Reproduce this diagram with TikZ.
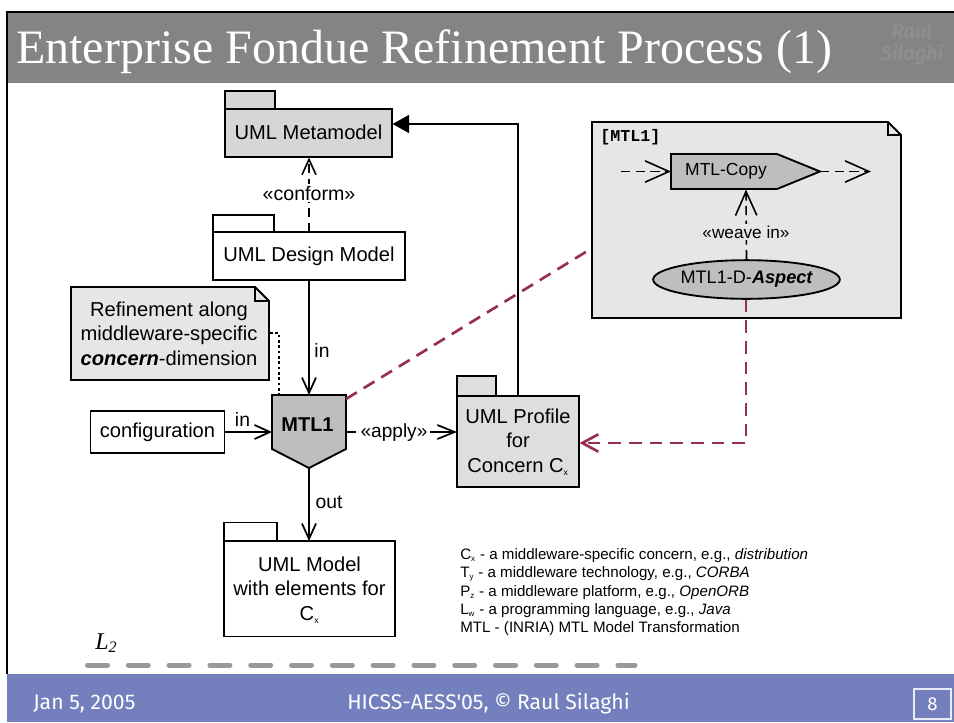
\documentclass[tikz,border=0pt]{standalone}
\usepackage{fontspec}
\setmainfont{Liberation Sans}
\newfontfamily\serifface{Liberation Serif}
\newfontfamily\monoface{Liberation Mono}
\newfontfamily\footface{Fira Sans}
\usetikzlibrary{arrows.meta,shapes.geometric}
\definecolor{band}{HTML}{848484}
\definecolor{footer}{HTML}{7480BD}
\definecolor{wine}{HTML}{97304F}
\definecolor{pkgA}{HTML}{D6D6D6}
\definecolor{pkgB}{HTML}{DEDEDE}
\definecolor{noteC}{HTML}{E6E6E6}
\definecolor{stepC}{HTML}{BEBEBE}
\tikzset{
  x=0.75pt,y=-0.75pt,
  outline/.style={draw=black,line width=1.4pt,line join=miter},
  boxlabel/.style={font=\fontsize{15.1}{18.5}\selectfont,align=center,inner sep=0pt},
  smalllabel/.style={font=\fontsize{14.5}{16}\selectfont,inner sep=0pt},
  legend/.style={font=\fontsize{11.35}{13}\selectfont,anchor=base west,inner sep=0pt},
  solidflow/.style={line width=1.4pt,-{Straight Barb[length=11.5pt,width=10.5pt,line width=1.3pt]}},
  dashflow/.style={line width=1.2pt,dash pattern=on 7pt off 4pt,-{Straight Barb[length=11.5pt,width=10.5pt,line width=1.2pt]}},
  bigdash/.style={line width=1.2pt,dash pattern=on 7pt off 4pt,-{Straight Barb[length=18pt,width=16pt,line width=1.2pt]}},
  redflow/.style={draw=wine,line width=2pt,dash pattern=on 9.5pt off 6pt},
  footertext/.style={anchor=base west,inner sep=0pt,text=white,font=\footface\fontsize{15.9}{18}\selectfont},
}
\begin{document}
\begin{tikzpicture}
\useasboundingbox (0,0) rectangle (954,722);
\fill[white] (0,0) rectangle (954,722);
% slide frame
\fill[band] (7,12) rectangle (954,83);
\fill[footer] (7,674) rectangle (954,722);
\draw[line width=1.5pt] (954,11.5) -- (7,11.5) -- (7,674);
\node[anchor=base west,inner sep=0pt,text=white,font=\serifface\fontsize{36}{40}\selectfont] (title) at (16,63) {Enterprise Fondue Refinement Process (1)};
\node[inner sep=0pt,align=center,text=band!92!white,font=\footface\itshape\bfseries\fontsize{15}{16.5}\selectfont] (mark) at (912,44) {Raul\\Silaghi};
% footer
\node[footertext] (date) at (33,709) {Jan 5, 2005};
\node[footertext] (conf) at (347,709) {HICSS-AESS'05, © Raul Silaghi};
\node[draw=white!85!footer,line width=1pt,minimum width=27.75pt,minimum height=22.5pt,inner sep=0pt,text=white,font=\footface\fontsize{14}{16}\selectfont] (page) at (932.5,704) {8};
% UML Metamodel
\draw[outline,fill=pkgA] (225,109) rectangle (275,91);
\draw[outline,fill=pkgA] (225,109) rectangle (392,157);
\node[boxlabel] (meta) at (308.5,132) {UML Metamodel};
\coordinate (metaB) at (309,157.5);
\coordinate (metaR) at (392.5,124);
% UML Design Model
\draw[outline,fill=white] (213,232) rectangle (274,215);
\draw[outline,fill=white] (213,232) rectangle (405,280);
\node[boxlabel] (design) at (309,256) {UML Design Model};
\coordinate (designT) at (309,232);
\coordinate (designB) at (309,280);
% Note
\draw[outline,fill=noteC] (71,287) -- (255,287) -- (269,301) -- (269,380) -- (71,380) -- cycle;
\draw[outline] (255,287) -- (255,301) -- (269,301);
\node[boxlabel] (note) at (169,333.5) {Refinement along\\middleware-specific\\{\bfseries\itshape concern}-dimension};
\coordinate (noteR) at (270,333);
% MTL1
\draw[outline,fill=stepC] (272,395) -- (346,395) -- (346,449) -- (309,468) -- (272,449) -- cycle;
\node[inner sep=0pt,font=\bfseries\fontsize{15}{17}\selectfont] (mtl) at (307.5,425) {MTL1};
\coordinate (mtlT) at (309,395);
\coordinate (mtlNote) at (279,395);
\coordinate (mtlL) at (272,432);
\coordinate (mtlR) at (346,432);
\coordinate (mtlB) at (309,468);
\coordinate (mtlC) at (346,399);
% configuration
\node[outline,fill=white,minimum width=100.5pt,minimum height=31.5pt,inner sep=0pt,font=\fontsize{15.1}{18}\selectfont] (config) at (157.5,432) {configuration};
% Profile
\draw[outline,fill=pkgB] (457,396) rectangle (496,376);
\draw[outline,fill=pkgB] (457,396) rectangle (579,487);
\node[boxlabel] (profile) at (518,442) {UML Profile\\for\\Concern C\textsubscript{\fontsize{6.5}{7}\selectfont x}};
\coordinate (profT) at (518,396);
\coordinate (profL) at (457,432);
\coordinate (profR) at (579.5,443);
% UML Model
\draw[outline,fill=white] (224,541) rectangle (277,522.5);
\draw[outline,fill=white] (224,541) rectangle (395,636.5);
\node[boxlabel] (model) at (309.5,590) {UML Model\\with elements for\\C\textsubscript{\fontsize{6.5}{7}\selectfont x}};
\coordinate (modelT) at (309,541);
% Aspect note
\draw[outline,fill=noteC] (592,122) -- (888,122) -- (901,135) -- (901,318) -- (592,318) -- cycle;
\draw[outline] (888,122) -- (888,135) -- (901,135);
\node[anchor=base west,inner sep=0pt,font=\monoface\bfseries\fontsize{12.5}{14}\selectfont] (tag) at (600,141) {[MTL1]};
\coordinate (noteL) at (589,250);
\draw[outline,fill=stepC] (671,154) -- (777,154) -- (820,171.5) -- (777,189) -- (671,189) -- cycle;
\node[inner sep=0pt,font=\fontsize{13.1}{15}\selectfont] (copy) at (726,171.5) {MTL-Copy};
\coordinate (copyL) at (671,171.5);
\coordinate (copyR) at (820,171.5);
\coordinate (copyB) at (746,189.5);
\coordinate (inFree) at (621,171.5);
\coordinate (outFree) at (871,171.5);
\node[draw=black,line width=1.4pt,fill=stepC,ellipse,minimum width=138pt,minimum height=29pt,inner sep=0pt,font=\fontsize{13.6}{15}\selectfont] (aspect) at (746.5,279.5) {MTL1-D-{\bfseries\itshape Aspect}};
\coordinate (redA) at (746,299.5);
\coordinate (redB) at (746,443);
% connectors
\draw[dashflow] (designT) -- (metaB);
\node[smalllabel,fill=white,inner xsep=1pt,inner ysep=1pt,font=\fontsize{14.7}{16}\selectfont] (conform) at (309,193) {«conform»};
\draw[solidflow] (designB) -- (mtlT);
\node[smalllabel] (inA) at (322,350) {in};
\draw[line width=1.3pt,dash pattern=on 2pt off 2pt] (noteR) -| (mtlNote);
\draw[solidflow] (config) -- (mtlL);
\node[smalllabel] (inB) at (242.5,419) {in};
\draw[solidflow] (mtlB) -- (modelT);
\node[smalllabel] (outL) at (329,502) {out};
\draw[line width=1.2pt,dash pattern=on 7.5pt off 55.5pt on 30pt,-{Straight Barb[length=13pt,width=10.5pt,line width=1.3pt]}] (mtlR) -- (profL);
\node[smalllabel,fill=white,inner xsep=0pt,font=\fontsize{14.3}{16}\selectfont] (apply) at (394,433) {«apply»};
\draw[line width=1.4pt,-{Triangle[length=12.5pt,width=13.5pt]}] (profT) |- (metaR);
\draw[redflow] (mtlC) -- (noteL);
\draw[redflow,-{Straight Barb[length=12pt,width=13pt,line width=2pt]}] (redA) -- (redB) -- (profR);
\draw[bigdash] (inFree) -- (copyL);
\draw[bigdash] (copyR) -- (outFree);
\draw[bigdash] (aspect.north) -- (copyB);
\node[smalllabel,fill=noteC,inner xsep=1pt,inner ysep=1pt,font=\fontsize{12.9}{15}\selectfont] (weave) at (746,232) {«weave in»};
% legend
\node[legend] (l1) at (460,559.5) {C\textsubscript{\fontsize{6}{7}\selectfont x} - a middleware-specific concern, e.g., \textit{distribution}};
\node[legend] (l2) at (460,577.5) {T\textsubscript{\fontsize{6}{7}\selectfont y} - a middleware technology, e.g., \textit{CORBA}};
\node[legend] (l3) at (460,596) {P\textsubscript{\fontsize{6}{7}\selectfont z} - a middleware platform, e.g., \textit{OpenORB}};
\node[legend] (l4) at (460,614) {L\textsubscript{\fontsize{6}{7}\selectfont w} - a programming language, e.g., \textit{Java}};
\node[legend] (l5) at (460,632) {MTL - (INRIA) MTL Model Transformation};
% L2
\node[anchor=base west,inner sep=0pt,font=\serifface\itshape\fontsize{18}{21}\selectfont] (ltwo) at (95,649) {L\textsubscript{\fontsize{12}{14}\selectfont 2}};
\coordinate (lineA) at (87.5,665);
\coordinate (lineB) at (635,665);
\draw[color=black!40,line width=3.75pt,line cap=round,dash pattern=on 15pt off 15.6pt] (lineA) -- (lineB);
\end{tikzpicture}
\end{document}
